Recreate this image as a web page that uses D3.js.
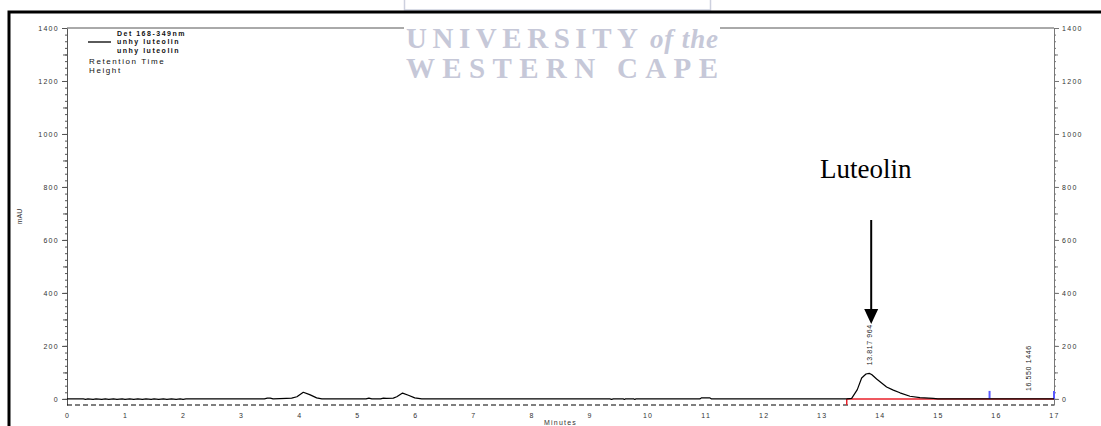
<!DOCTYPE html>
<html>
<head>
<meta charset="utf-8">
<script src="https://cdn.jsdelivr.net/npm/d3@7"></script>
<style>
  html, body { margin: 0; padding: 0; background: #fff; }
  svg { display: block; }
  .tick text { font-family: "Liberation Sans", Arial, sans-serif; font-size: 7px; letter-spacing: 1.3px; fill: #333; }
</style>
</head>
<body>
<script>
// Chromatogram trace (minutes, mAU)
const times = [0, 0.28, 0.32, 0.36, 0.45, 0.5, 0.6, 0.66, 0.72, 0.8, 0.86, 0.95, 1.0, 1.08, 1.15, 1.22, 1.3, 1.36, 1.45, 1.5, 1.58, 1.66, 1.72, 1.8, 1.88, 1.95, 2.0, 2.05,
  3.4, 3.45, 3.5, 3.55, 3.78, 3.87, 3.96, 4.07, 4.18, 4.30, 4.39,
  5.15, 5.2, 5.25, 5.4, 5.45, 5.5, 5.62, 5.68, 5.78, 5.88, 5.99, 6.11,
  9.35, 9.38, 9.41, 9.58, 9.6, 9.62, 9.76, 9.78, 9.8, 10.9, 10.93, 11.07, 11.1,
  13.43, 13.515, 13.612, 13.687, 13.762, 13.817, 13.859, 13.945, 14.031, 14.117, 14.232, 14.347, 14.519, 14.691, 14.921, 15.0, 17.0];
const absorbance = [0, 0, -2, 0, -2, 0, -2, 0, -2, 0, -2, 0, -2, 0, -2, 0, -2, 0, -2, 0, -2, 0, -2, 0, -2, 0, -2, 0,
  0, 3, 3, 0, 2, 3, 8, 25, 16, 4, 0,
  0, 3, 0, 0, 3, 2, 3, 8, 22, 14, 4, 0,
  0, -2, 0, 0, -2, 0, 0, -2, 0, 0, 4, 4, 0,
  0, 2, 35, 79, 94, 96.4, 92, 75, 60, 45, 33, 23, 10, 5, 2, 0, 0];

// Integration markers
const baselineStart = 13.43;
const baselineEnd = 17;
const eventMarks = [15.89, 17];

// Peak annotations: retention time, height label
const peakTimes = [13.817, 16.550];
const peakHeights = [96.4, 0];
const peakLabels = ["13.817  964", "16.550  1446"];

const xTicks = d3.range(0, 18, 1);
const yMajor = d3.range(0, 1401, 200);
const yMid = d3.range(0, 1401, 100);
const yMinor = d3.range(0, 1401, 25);

const legendLines = ["Det 168-349nm", "unhy luteolin", "unhy luteolin"];
const legendExtra = ["Retention Time", "Height"];

const W = 1101, H = 426;
const svg = d3.select("body").append("svg").attr("width", W).attr("height", H);
svg.append("rect").attr("width", W).attr("height", H).attr("fill", "#fff");

const x = d3.scaleLinear().domain([0, 17]).range([67, 1054]);
const y = d3.scaleLinear().domain([-23, 1400]).range([405, 28]);
const sans = '"Liberation Sans", Arial, sans-serif';
const fmt = d3.format("d");

// Plot frame top
svg.append("line").attr("x1", x(0)).attr("x2", x(17)).attr("y1", y(1400)).attr("y2", y(1400))
  .attr("stroke", "#555").attr("stroke-width", 1);

// Left axis: minor, mid and major ticks
const leftG = svg.append("g").attr("transform", `translate(${x(0)},0)`);
leftG.append("g").call(d3.axisLeft(y).tickValues(yMinor).tickSize(2).tickFormat("")).call(g => g.select(".domain").remove());
leftG.append("g").call(d3.axisLeft(y).tickValues(yMid).tickSize(4).tickFormat("")).call(g => g.select(".domain").remove());
leftG.append("g").call(d3.axisLeft(y).tickValues(yMajor).tickSize(5).tickSizeOuter(0).tickPadding(3).tickFormat(fmt));
leftG.selectAll("line, path").attr("stroke", "#555");

const rightG = svg.append("g").attr("transform", `translate(${x(17)},0)`);
rightG.append("g").call(d3.axisRight(y).tickValues(yMinor).tickSize(2).tickFormat("")).call(g => g.select(".domain").remove());
rightG.append("g").call(d3.axisRight(y).tickValues(yMid).tickSize(4).tickFormat("")).call(g => g.select(".domain").remove());
rightG.append("g").call(d3.axisRight(y).tickValues(yMajor).tickSize(5).tickSizeOuter(0).tickPadding(3).tickFormat(fmt));
rightG.selectAll("line, path").attr("stroke", "#777");

// Bottom axis labels and dashed zero reference
const bottomG = svg.append("g").attr("transform", `translate(0,${y(-23)})`)
  .call(d3.axisBottom(x).tickValues(xTicks).tickSize(0).tickPadding(8).tickFormat(fmt));
bottomG.select(".domain").remove();
svg.append("line").attr("x1", x(0)).attr("x2", x(17)).attr("y1", y(-23)).attr("y2", y(-23))
  .attr("stroke", "#000").attr("stroke-width", 1.2).attr("stroke-dasharray", "5,3");

svg.append("text").attr("x", (x(0) + x(17)) / 2).attr("y", 425).attr("text-anchor", "middle")
  .attr("font-family", sans).attr("font-size", 7).attr("letter-spacing", 1.2).attr("fill", "#333").text("Minutes");
svg.append("text").attr("transform", `translate(22,${(y(1400) + y(-23)) / 2}) rotate(-90)`).attr("text-anchor", "middle")
  .attr("font-family", sans).attr("font-size", 7).attr("fill", "#333").text("mAU");

// Integration baseline and event marks
svg.append("line").attr("x1", x(baselineStart)).attr("x2", x(baselineEnd)).attr("y1", y(0)).attr("y2", y(0))
  .attr("stroke", "#e8202a").attr("stroke-width", 1.5);
svg.append("line").attr("x1", x(baselineStart)).attr("x2", x(baselineStart)).attr("y1", y(0)).attr("y2", y(-23))
  .attr("stroke", "#e8202a").attr("stroke-width", 1.5);
svg.selectAll(".evt").data(eventMarks).join("line").attr("class", "evt")
  .attr("x1", d => x(d)).attr("x2", d => x(d)).attr("y1", y(0)).attr("y2", y(0) - 8)
  .attr("stroke", "#5a5aff").attr("stroke-width", 2);

// Trace
const pts = times.map((t, i) => [t, absorbance[i]]);
svg.append("path").datum(pts)
  .attr("d", d3.line().x(d => x(d[0])).y(d => y(d[1])))
  .attr("fill", "none").attr("stroke", "#000").attr("stroke-width", 1.2).attr("stroke-linejoin", "round");

// Peak labels
svg.selectAll(".plabel").data(peakTimes).join("text").attr("class", "plabel")
  .attr("transform", (d, i) => `translate(${x(d) + 3},${y(peakHeights[i]) - 8}) rotate(-90)`)
  .attr("font-family", sans).attr("font-size", 7).attr("letter-spacing", 0.6).attr("fill", "#222")
  .text((d, i) => peakLabels[i]);

// Annotation arrow
const ax = x(peakTimes[0]) + 2;
svg.append("line").attr("x1", ax).attr("x2", ax).attr("y1", 220).attr("y2", 312).attr("stroke", "#000").attr("stroke-width", 2);
svg.append("path").attr("d", `M${ax - 7},309 L${ax + 7},309 L${ax},324 Z`).attr("fill", "#000");
svg.append("text").attr("x", 820).attr("y", 178).attr("font-family", '"Liberation Serif", "Times New Roman", serif')
  .attr("font-size", 27).attr("fill", "#000").text("Luteolin");

// Legend
const leg = svg.append("g").attr("font-family", sans).attr("fill", "#111");
leg.append("line").attr("x1", 88).attr("x2", 111).attr("y1", 42).attr("y2", 42).attr("stroke", "#000").attr("stroke-width", 1.3);
leg.selectAll(".l1").data(legendLines).join("text").attr("class", "l1")
  .attr("x", 117).attr("y", (d, i) => 36 + i * 8.3).attr("font-size", 7).attr("font-weight", "bold").attr("letter-spacing", 1.5).text(d => d);
leg.selectAll(".l2").data(legendExtra).join("text").attr("class", "l2")
  .attr("x", 89).attr("y", (d, i) => 64 + i * 8.7).attr("font-size", 8).attr("letter-spacing", 1.6).text(d => d);

// Watermark
const wm = svg.append("g");
wm.append("rect").attr("x", 404).attr("y", 14).attr("width", 316).attr("height", 68).attr("fill", "#fff");
wm.append("rect").attr("x", 404.5).attr("y", -2).attr("width", 306).attr("height", 12).attr("fill", "none").attr("stroke", "#cdd0de").attr("stroke-width", 1.5);
const serif = '"Liberation Serif", "Times New Roman", serif';
wm.append("text").attr("x", 406).attr("y", 48).attr("font-family", serif).attr("font-weight", "bold").attr("font-size", 29)
  .attr("fill", "#c6c8d8").attr("textLength", 232).attr("lengthAdjust", "spacing").text("UNIVERSITY");
wm.append("text").attr("x", 650).attr("y", 48).attr("font-family", serif).attr("font-style", "italic").attr("font-weight", "bold").attr("font-size", 27)
  .attr("fill", "#c6c8d8").attr("textLength", 68).attr("lengthAdjust", "spacing").text("of the");
wm.append("text").attr("x", 406).attr("y", 78).attr("font-family", serif).attr("font-weight", "bold").attr("font-size", 29)
  .attr("fill", "#c6c8d8").attr("textLength", 312).attr("lengthAdjust", "spacing").text("WESTERN CAPE");

// Outer frame
svg.append("path").attr("d", `M9,${H} V12 H${W}`).attr("fill", "none").attr("stroke", "#000").attr("stroke-width", 3);
</script>
</body>
</html>
